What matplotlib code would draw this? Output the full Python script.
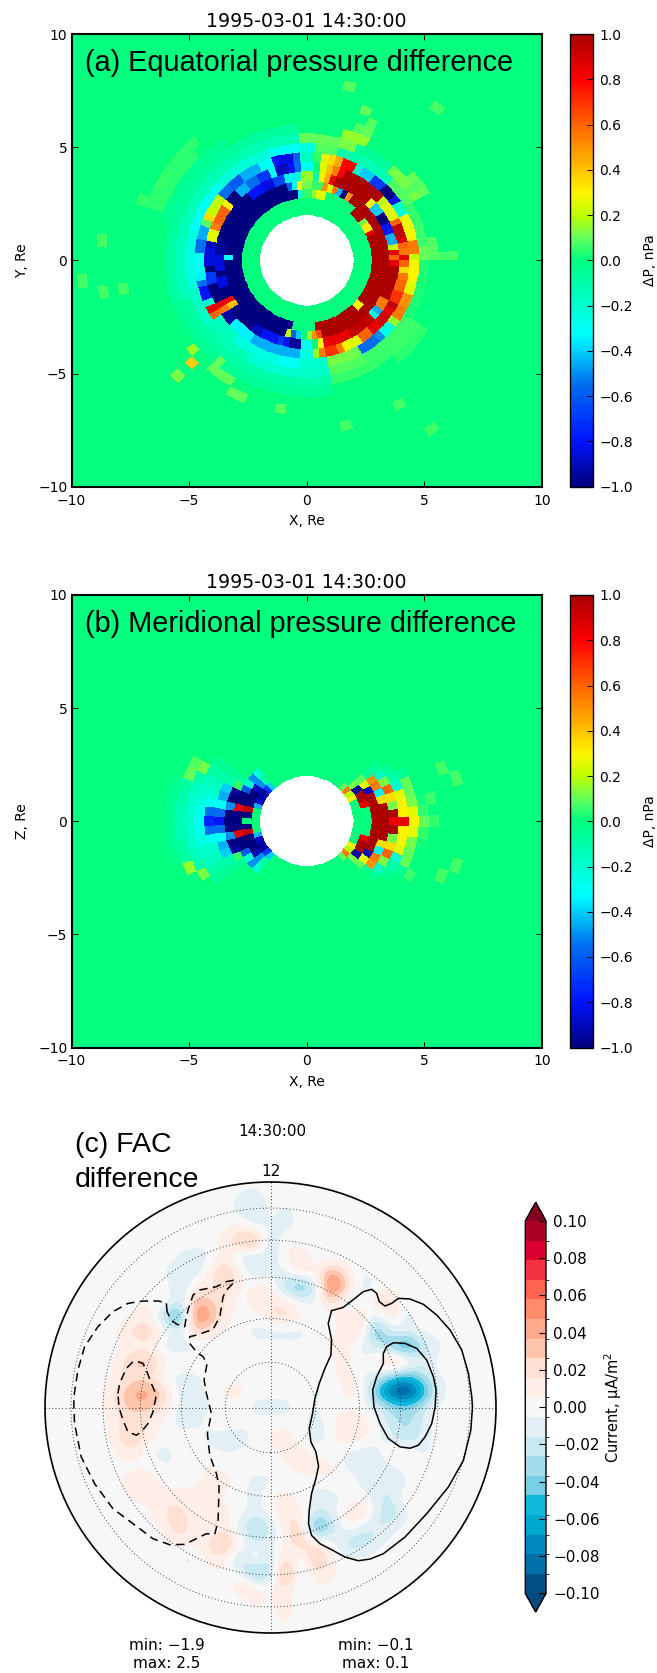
import numpy as np
import matplotlib
matplotlib.use('Agg')
import matplotlib.pyplot as plt
from matplotlib.colors import LinearSegmentedColormap, ListedColormap, BoundaryNorm, Normalize
from matplotlib.patches import Circle
from matplotlib.ticker import FuncFormatter

W, H = 657, 1673
TITLE = '1995-03-01 14:30:00'

# ---------- radial ring edges of the pressure grids (Re)
r_edges = [2.0, 2.37, 2.77, 3.15, 3.52, 3.94, 4.37, 4.80, 5.20, 5.62, 6.04, 6.46,
           6.88, 7.30, 7.72, 8.14, 8.56, 8.98, 9.40, 9.82, 15.0]

# ---------- panel (a): value of each ring, as start angle (deg) / value (nPa)
a0_deg = [0, 22, 28, 33, 37, 48, 75, 82, 86, 92, 96, 259.5, 278, 316, 322]
a0_val = [1, .85, .32, .12, 1, 0, .25, .15, .05, -.3, -1, 0, 1, .3, 1]
a1_deg = [0, 57, 60, 64, 67, 72, 76, 80, 87, 92, 96, 100, 105, 176, 181, 255, 259, 263, 268, 270, 272, 276, 280]
a1_val = [1, .5, -1, -.45, .55, .25, .5, .05, .12, .3, -.25, -.6, -1, -.3, -1, .2, -.6, -.4, 0, .15, .5, .65, 1]
a2_deg = [0, 3, 8, 12, 18, 27, 33, 40, 46, 72, 75, 79, 83, 88, 94, 98, 104, 112, 120, 130, 145, 170, 176, 187, 193,
          200, 205, 210, 213, 232, 240, 250, 255, 259, 267, 272, 277, 281, 300, 317, 322, 327, 335, 357]
a2_val = [.6, .85, .2, -.45, -.8, -1, -.4, .3, 1, .85, .45, .3, -.1, .15, -.2, -.35, -.65, -.85, -.8, -1, -1, -.95, -.85, -1, -.85,
          -1, .85, .4, -1, -.9, -.8, -.7, -.8, -.95, -.3, 0, .3, .85, .95, -.2, -.45, .55, 1, .85]
a3_deg = [0, 3, 7, 11, 16, 22, 28, 36, 43, 66, 70, 76, 79, 83, 88, 93, 97, 100, 108, 113, 120, 127, 134, 141, 148, 156, 160, 168,
          172, 182, 186, 194, 205, 210, 213, 220, 235, 258, 265, 272, 274, 279, 283, 288, 293, 298, 304, 310, 320, 326, 330, 335, 340, 347, 352, 356]
a3_val = [.85, .55, .6, .9, .95, .6, .25, .2, 1, .8, .55, .4, .25, 0, -.3, -.55, -.8, -.9, -.3, -.7, -.55, -.45, -1, .3, .6, .55, .25, -.9,
          -.85, -1, -.7, -1, .85, .55, -.95, -.35, -.45, -.45, -.25, -.1, .15, .55, .7, .55, .3, .25, .6, .85, .9, .85, .95, .7, .6, .55, .35, .6]
a4_deg = [0, 4, 10, 16, 26, 32, 38, 45, 52, 60, 64, 70, 74, 79, 83, 88, 92, 97, 104, 110, 118, 128, 136, 142, 152, 156, 161, 168, 175,
          187, 190, 195, 203, 205, 210, 213, 230, 255, 268, 280, 298, 300, 310, 316, 322, 328, 335, 342, 348, 356]
a4_val = [.2, .55, .3, .28, -.2, -.8, -1, -.7, -.4, -.2, .8, .45, .35, .25, .05, -.15, -.6, -.85, -.8, -.3, -.45, -.6, -.55, .2, .35, .1, -.45, -.55, -.3,
          -.35, -.55, -.8, -.2, .85, .6, -.15, -.25, -.3, -.2, .12, .1, -.55, -.5, -.25, .15, .55, .5, .25, .3, .3]
a5_deg = [0, 8, 20, 30, 45, 65, 75, 88, 95, 110, 140, 165, 195, 215, 240, 265, 280, 300, 330]
a5_val = [.1, .06, .05, .08, -.12, -.1, .08, -.25, -.3, -.22, -.3, -.25, -.18, -.13, -.2, -.18, .08, .06, .03]
a6_deg = [0, 10, 30, 50, 66, 76, 95, 140, 200, 230, 280, 310, 330]
a6_val = [.08, 0, .12, -.06, .12, .1, -.12, -.14, -.08, -.1, .05, .06, 0]
a7_deg = [0, 5, 30, 40, 65, 75, 95, 170, 200, 240, 280, 310, 330]
a7_val = [.07, 0, .1, 0, .15, 0, -.07, -.08, -.04, -.06, 0, .04, 0]
a8_deg = [0, 4, 65, 72, 125, 165, 228, 240, 250]
a8_val = [.08, 0, .1, 0, -.04, 0, .1, 0, 0]
a9_deg = [0, 135, 160, 243, 247]
a9_val = [0, .04, 0, .1, 0]
a10_deg = [0, 130, 160]
a10_val = [0, .04, 0]

# isolated faint cells of panel (a), Re
a_far_x = [-9.5, -8.7, -8.0, -6.9, -6.5, -6.0, -8.7, 2.6, 2.0, 2.66, 2.3, 5.6, 5.6, 1.8, -1.1, 4.2,
           -4.77, -4.8, -5.2, -3.8, -3.2, -3.25, 4.4, 4.9, 6.2]
a_far_y = [-1.1, -1.2, -1.2, 2.65, 3.3, 3.9, .8, 6.8, 7.6, 6.1, 5.74, 7.0, -7.5, -7.1, -6.4, -6.3,
           -4.7, -4.0, -5.15, -4.6, -5.2, -5.8, 3.2, 3.5, .2]
a_far_v = [.07, .07, .07, .05, .05, .05, .07, .1, .08, .08, .08, .07, .06, .07, .08, .07,
           .38, .15, .12, .1, .1, .1, .08, .08, .07]

# ---------- panel (b): by ring, value at successive latitude cells away from the equator
b_right = [[0, 0, 0, 0, 0, .3, .2, .55, .1],
           [0, 0, 0, .85, 1, 1, -.95, .12, 0],
           [1, 1, 1, 1, 1, -.9, .25, .1, 0],
           [1, 1, 1, .35, -.35, .55, .5, -.05, 0],
           [.85, 1, .12, .35, .6, .12, -.15, -.05, 0],
           [.85, .3, .3, .25, -.2, -.1, -.05, 0, 0],
           [.3, .25, .12, .1, .1, -.05, 0, 0, 0],
           [.1, .05, .02, 0, 0, 0, 0, 0, 0],
           [.05, 0, 0, 0, 0, 0, 0, 0, 0]]
b_left = [[0, 0, 0, -.45, -.9, -.95, -.95, -.7, -.4],
          [0, -1, .95, -1, -1, -1, -.9, -.5, -.1],
          [-1, -1, .85, -1, -1, -.6, -.2, -.5, -.2],
          [-1, -1, -.5, -1, -.95, .05, -.05, 0, 0],
          [-.8, -.55, -.3, -.45, -.4, -.1, -.05, 0, 0],
          [-.75, -.55, -.3, -.2, -.15, -.1, -.05, 0, 0],
          [-.3, -.28, -.25, -.2, -.15, -.1, -.05, 0, 0],
          [-.2, -.2, -.18, -.15, -.1, -.05, 0, 0, 0],
          [-.12, -.12, -.1, -.08, -.04, 0, 0, 0, 0],
          [-.05, -.05, -.04, -.03, 0, 0, 0, 0, 0]]
b_far_x = [5.77, 6.27, 5.28, 5.77, 6.27, 4.36, -4.34, -4.9, -5.12, -5.12, -4.98, -4.34]
b_far_y = [2.39, 2.18, 1.12, -2.46, -2.2, -2.6, 2.46, 2.67, 2.04, -2.06, -2.35, -2.42]
b_far_v = [.07, .07, .06, .07, .07, .06, .12, .08, .1, .2, .15, .12]

# ---------- panel (c): FAC difference (0.01 uA/m2) on a 31x31 grid; row key = north index, column key = east index
fac_rows = {
    14: {-1: -1.2, -2: -.8},
    13: {-1: -1.8, -2: -1.2, 1: -1.1},
    12: {-2: 1, -1: -1.2, 1: -1.2, 0: -.4},
    11: {-3: 1.2, -2: 3.5, -1: 5.5, 0: -3, 1: 1.2, 2: -.8, 3: -.7},
    10: {-6: -.8, -5: -1.2, -4: -1, -3: 1.5, -2: -2, -1: -2.2, 0: -1, 2: 2.8, 3: -.8, 4: -.8},
    9: {-7: -.8, -6: -.8, -5: -2, -4: 1.5, -3: 3.2, -2: 1.2, -1: -2, 0: -.7, 1: -.7, 2: 2, 3: .6, 4: 4.5, 5: 1.5, 6: -.8},
    8: {-8: -.7, -7: .7, -6: -3.2, -5: 1.2, -4: .8, -3: 3, -1: 1, 0: 1, 1: -3, 2: -5.5, 3: -2.2, 4: 7.5, 5: 3.5, 6: -1.2, 7: -.8},
    7: {-8: .7, -7: 1, -6: -2.2, -5: 4, -4: 3, -3: 1.2, -1: 1.2, 0: 2, 1: 1, 3: -1, 4: 2.5, 5: -1, 6: -1.2, 7: 2, 8: 3, 9: -1},
    6: {-9: .8, -8: 1.2, -7: -4, -6: -6.5, -5: 6, -4: 4.5, -3: 1, 0: 1.5, 1: 2.8, 2: .7, 5: 1.2, 6: 2.8, 7: -2, 8: 2, 9: -1.2},
    5: {-10: 1, -9: 2.5, -8: 2.8, -7: .8, -6: -1, -5: 3, -4: 1.5, -1: -1.2, 0: -1.2, 1: -1.2, 2: -1.2, 5: 1.2, 6: 2, 7: -5.5, 8: -1.2, 9: -1},
    4: {-9: .8, -8: .8, -7: -1.6, -6: -1.6, -5: -1.2, -4: -.7, 4: 1, 5: 1, 6: -1, 7: -1.2, 8: -4.5, 9: -7.5, 10: -3.5, 11: -1},
    3: {-10: 1.5, -9: 3.5, -8: 3.5, -7: 1, -6: .8, -5: .8, -3: 1, 0: 1, 2: -.8, 3: -.8, 5: 1.5, 6: -1, 7: 1.2, 8: 4.5, 9: 3, 10: -1.2},
    2: {-10: .8, -9: 2, -8: 1.5, -7: -.7, -6: -1.2, -5: -1, 1: .7, 2: .5, 5: 1.2, 7: -1.5, 8: -4, 9: -6, 10: -3.5, 11: -.8},
    1: {-11: .7, -10: 2.5, -9: 4.5, -8: 4.5, -7: 2.5, -6: -1.2, -5: -1.2, -3: 1, -2: 1.2, 3: -.8, 4: -.8, 5: 1, 6: 1, 7: -5, 8: -9.5, 9: -11, 10: -7.5, 11: -2},
    0: {-11: .7, -10: 2, -9: 3.5, -8: 3, -7: 1.5, -6: -1.2, -5: -1.2, -4: -.7, -1: -1.2, 0: -1.2, 1: -1.2, 3: -.8, 4: .7, 7: -1, 8: -3, 9: -4, 10: -2.2},
    -1: {-10: 1.8, -9: 1.8, -8: 1, -6: -1.2, -5: -.8, -3: 1.2, 3: -1.2, 5: 1.5, 6: 1.5, 8: -2, 9: -3, 10: -1.8},
    -2: {-10: 2, -9: 3, -8: 1.2, -4: -1.2, -3: -1.6, -2: -1.6, 0: .7, 1: 1.5, 3: -1.6, 5: 2, 6: 1.2, 8: -1.5, 9: -3, 10: -1.5},
    -3: {-10: 1, -9: 1.5, -8: -1, -7: -1.2, -3: -.7, 1: 1.2, 2: 1.5, 5: -.7, 6: -1.2, 7: -1.2, 8: 1.2, 9: 1.2, 10: -1},
    -4: {-8: .7, -7: -.7, -4: .8, 2: 1.2, 3: 1.2, 4: 1.2, 5: -1, 6: -1.5, 7: -1.5, 8: -1},
    -5: {-10: .7, -9: 1.5, -8: 1.2, -4: 1.5, -3: 1.2, -1: -1.2, 0: -.8, 5: 1.2, 6: -.8, 7: -1.5, 8: -1.8, 9: -.8},
    -6: {-9: .8, -8: 1.2, -7: 1.2, -6: 1.2, -5: 1.2, -4: .8, -1: -1.2, 0: .7, 1: 1.2, 3: -1.2, 4: -1.2, 5: -.7, 7: -1, 8: -2, 9: .8},
    -7: {-7: 2, -6: 2, -5: .8, -4: 1, -3: 1.2, -1: -1.2, 1: 2, 2: 1, 3: -1.8, 4: -1.2, 5: 1.2, 6: 3, 7: -1.2, 8: -2.8, 9: -.8},
    -8: {-7: 1.2, -6: 2.5, -5: .8, -3: 1.2, -2: -1.6, -1: -3.5, 0: -2, 1: 1.2, 2: 3, 3: -6.5, 4: -3.2, 5: .7, 6: -1.2, 7: -2, 8: -1.2},
    -9: {-6: 1.6, -5: .7, -4: 2, -3: 4.2, -2: .7, -1: -2.2, 0: -.8, 1: .7, 2: 3.5, 3: 1.2, 5: -2.2, 6: -3, 7: -1.2},
    -10: {-6: -1, -5: -1.2, -4: 1.6, -3: 1.2, -2: -3, -1: 2, 0: -2.2, 1: 2, 2: -1.6, 3: 4.5, 4: 1.2, 5: -.8},
    -11: {-3: .7, -2: -1.2, -1: -5, 0: -3, 1: 6, 2: -1.2, 3: 1.6, 4: 1},
    -12: {-3: -.8, -2: 3, -1: 1.2, 1: 2, 2: -1.2, 3: .7},
    -13: {-2: -1.2, -1: 1.6, 1: 1.6, 2: -.8},
    -14: {-1: -1.1, 1: 1.1},
}

# ---------- panel (c): contours of the potential difference, hundredths of a 780-unit sin(colatitude) scale
solid_outer_x = [183, 218, 253, 278, 303, 318, 326, 343, 363, 383, 418, 458, 498, 538, 573, 593, 603, 605, 600, 578, 533, 468, 403, 338,
                 298, 263, 223, 183, 148, 123, 114, 116, 123, 136, 144, 136, 121, 116, 126, 133, 146, 163, 181, 183, 173, 183]
solid_outer_y = [290, 300, 327, 347, 354, 342, 317, 304, 312, 327, 325, 309, 277, 232, 172, 102, 32, 0, -68, -158, -238, -318, -388, -438,
                 -454, -459, -448, -426, -408, -383, -348, -308, -258, -213, -176, -133, -103, -63, -18, 27, 72, 117, 157, 202, 252, 290]
solid_inner_x = [348, 368, 403, 438, 468, 488, 496, 493, 483, 463, 443, 418, 388, 353, 328, 310, 306, 318, 338, 338, 348]
solid_inner_y = [182, 194, 192, 177, 142, 92, 52, 0, -48, -88, -113, -122, -118, -93, -48, 2, 52, 92, 132, 162, 182]
dashed_outer_x = [-310, -312, -337, -382, -427, -472, -517, -557, -577, -589, -589, -587, -567, -527, -472, -412, -352, -302, -257, -212,
                  -192, -167, -157, -154, -162, -182, -189, -177, -192, -199, -190, -202, -222, -242, -242, -222, -172, -152, -142, -132,
                  -112, -107, -132, -162, -212, -232, -247, -252, -257, -282, -297, -310]
dashed_outer_y = [287, 314, 319, 319, 312, 287, 242, 182, 112, 32, 0, -48, -148, -228, -303, -348, -393, -411, -410, -388,
                  -378, -380, -338, -238, -198, -143, -78, -18, 42, 82, 132, 152, 167, 192, 212, 217, 234, 272, 332, 352,
                  372, 382, 377, 362, 352, 337, 292, 272, 242, 250, 262, 287]
dashed_inner_x = [-457, -452, -432, -412, -402, -382, -372, -357, -342, -352, -367, -387, -402, -427, -442, -454, -457]
dashed_inner_y = [42, 72, 117, 137, 139, 132, 112, 72, 37, -13, -48, -73, -83, -73, -38, 2, 42]

colat_rings = [10, 20, 30, 40, 50]
colat_outer = 60
fac_ticks = [-.10, -.08, -.06, -.04, -.02, 0, .02, .04, .06, .08, .10]
fac_colors = ['#005088', '#0070a8', '#0088c0', '#00a8d0', '#10b8dc', '#78cfe6', '#a4dcec', '#c8e8f2', '#e2f0f6',
              '#f7f7f7', '#ffeee8', '#ffe0d2', '#ffc4ac', '#ffa98c', '#ff8a6c', '#ff6450', '#f53240', '#dc0030', '#aa0028']
dp_anchor_v = [-1, -.8, -.55, -.33, -.1, 0, .1, .2, .3, .45, .6, .8, 1]
dp_anchor_c = ['#00007f', '#0014ff', '#006ef0', '#00ffff', '#00ffaa', '#00ff80', '#64ff5a', '#beff00',
               '#fff500', '#ffaa00', '#ff6400', '#ff0000', '#aa0000']

dp_cmap = LinearSegmentedColormap.from_list('dp', list(zip([(v + 1) / 2 for v in dp_anchor_v], dp_anchor_c)), 256)
dp_norm = Normalize(-1, 1)


def pbox(x0, y0, x1, y1):
    return [x0 / W, 1 - y1 / H, (x1 - x0) / W, (y1 - y0) / H]


def ring_from_steps(deg, val, centres):
    idx = np.searchsorted(deg, centres, side='right') - 1
    return np.asarray(val, float)[idx]


def place_far(Z, xs, ys, vs, edges, nphi, offset):
    for x, y, v in zip(xs, ys, vs):
        r = np.hypot(x, y)
        a = (np.degrees(np.arctan2(y, x)) - offset) % 360
        Z[np.searchsorted(edges, r) - 1, int(a / (360 / nphi)) % nphi] = v


def mesh(ax, Z, edges, nphi, offset):
    th = np.radians(np.linspace(offset, offset + 360, nphi + 1))
    R, T = np.meshgrid(edges, th, indexing='ij')
    return ax.pcolormesh(R * np.cos(T), R * np.sin(T), Z, cmap=dp_cmap, norm=dp_norm,
                         shading='flat', antialiased=False, linewidth=0, rasterized=True)


def minus(s):
    return s.replace('-', '\u2212')


# ----- grid values
na = 96
ca = (np.arange(na) + .5) * 360 / na
Za = np.zeros((len(r_edges) - 1, na))
for i, (d, v) in enumerate([(a0_deg, a0_val), (a1_deg, a1_val), (a2_deg, a2_val), (a3_deg, a3_val), (a4_deg, a4_val),
                            (a5_deg, a5_val), (a6_deg, a6_val), (a7_deg, a7_val), (a8_deg, a8_val),
                            (a9_deg, a9_val), (a10_deg, a10_val)]):
    Za[i + 2] = ring_from_steps(d, v, ca)
place_far(Za, a_far_x, a_far_y, a_far_v, r_edges, na, 0)

nb = 64
db = 360 / nb
Zb = np.zeros((len(r_edges) - 1, nb))
for i, vals in enumerate(b_right):
    for s in range(nb):
        k = min(s, nb - s)
        if k < len(vals):
            Zb[i, s] = vals[k]
for i, vals in enumerate(b_left):
    for s in range(nb):
        k = abs(s - nb // 2)
        if k < len(vals):
            Zb[i, s] = vals[k]
place_far(Zb, b_far_x, b_far_y, b_far_v, r_edges, nb, -db / 2)

fac = np.zeros((31, 31))
for j, row in fac_rows.items():
    for i, v in row.items():
        fac[15 - j, i + 15] = v * .01

# ----- figure
fig = plt.figure(figsize=(W / 100, H / 100), dpi=100)
SANS = 'Liberation Sans'


def pressure_panel(y0, y1, Z, nphi, offset, ylabel, note, note_y):
    ax = fig.add_axes(pbox(71.5, y0, 541.9, y1))
    m = mesh(ax, Z, r_edges, nphi, offset)
    ax.set_xlim(-10, 10)
    ax.set_ylim(-10, 10)
    ax.set_xticks([-10, -5, 0, 5, 10])
    ax.set_yticks([-10, -5, 0, 5, 10])
    ax.tick_params(direction='in', top=True, right=True, length=4, width=.7, labelsize=10, pad=3)
    ax.tick_params(axis='x', pad=5)
    for s in ax.spines.values():
        s.set_linewidth(1.5)
    ax.set_xlabel('X, Re', fontsize=10, labelpad=4.5)
    ax.set_ylabel(ylabel, fontsize=10, labelpad=6.5)
    ax.set_title(TITLE, fontsize=13.6, pad=5)
    fig.text(85 / W, 1 - note_y / H, note, family=SANS, fontsize=20.8, va='center', ha='left')
    cax = fig.add_axes(pbox(569.5, y0, 592.5, y1))
    cb = fig.colorbar(m, cax=cax, ticks=np.arange(-1, 1.01, .2))
    cb.ax.tick_params(direction='in', length=4, width=.7, labelsize=10, pad=5)
    cb.ax.yaxis.set_major_formatter(FuncFormatter(lambda v, p: minus(f'{v:.1f}' if abs(v) > 1e-6 else '0.0')))
    cb.set_label('\u0394P, nPa', fontsize=10, labelpad=7.5)
    cb.outline.set_linewidth(1)
    return ax


pressure_panel(34, 486.7, Za, na, 0, 'Y, Re', '(a) Equatorial pressure difference', 63)
pressure_panel(595, 1047.5, Zb, nb, -db / 2, 'Z, Re', '(b) Meridional pressure difference', 624)

# ----- panel (c)
lim = np.sin(np.radians(colat_outer))
axc = fig.add_axes(pbox(44, 1181, 497, 1634))
axc.axis('off')
levels = np.linspace(-.1, .1, 20)
cm = ListedColormap(fac_colors)
cm.set_under('#004a80')
cm.set_over('#850022')
norm = BoundaryNorm(levels, 19)
half = 697.5 / 780
im = axc.imshow(fac, extent=[-half, half, -half, half], origin='upper', cmap=cm, norm=norm,
                interpolation='bicubic', interpolation_stage='data', zorder=1)
clip = Circle((0, 0), lim, transform=axc.transData)
im.set_clip_path(clip)
axc.set_xlim(-lim * 453 / 451, lim * 453 / 451)
axc.set_ylim(-lim * 453 / 451, lim * 453 / 451)
DOT = (0, (1, 3))
for c in colat_rings:
    axc.add_patch(Circle((0, 0), np.sin(np.radians(c)), fill=False, ec='k', lw=.6, ls=DOT, zorder=2))
axc.plot([-lim, lim], [0, 0], color='k', lw=.6, ls=DOT, zorder=2)
axc.plot([0, 0], [-lim, lim], color='k', lw=.6, ls=DOT, zorder=2)
axc.add_patch(Circle((0, 0), lim, fill=False, ec='k', lw=1.2, zorder=4))
for xs, ys in [(solid_outer_x, solid_outer_y), (solid_inner_x, solid_inner_y)]:
    axc.plot(np.array(xs) / 780, np.array(ys) / 780, color='k', lw=1.1, zorder=3)
for xs, ys in [(dashed_outer_x, dashed_outer_y), (dashed_inner_x, dashed_inner_y)]:
    axc.plot(np.array(xs) / 780, np.array(ys) / 780, color='k', lw=1.1, ls=(0, (5.5, 3.5)), zorder=3)

fig.text(272 / W, 1 - 1131 / H, '14:30:00', fontsize=11, ha='center', va='center')
fig.text(271 / W, 1 - 1172 / H, '12', fontsize=11, ha='center', va='center')
fig.text(75 / W, 1 - 1145 / H, '(c) FAC', family=SANS, fontsize=20.5, ha='left', va='center')
fig.text(75 / W, 1 - 1180 / H, 'difference', family=SANS, fontsize=20.5, ha='left', va='center')
fig.text(167 / W, 1 - 1646 / H, 'min: \u22121.9', fontsize=11, ha='center', va='center')
fig.text(167 / W, 1 - 1664 / H, 'max: 2.5', fontsize=11, ha='center', va='center')
fig.text(376 / W, 1 - 1646 / H, 'min: \u22120.1', fontsize=11, ha='center', va='center')
fig.text(376 / W, 1 - 1664 / H, 'max: 0.1', fontsize=11, ha='center', va='center')

caxc = fig.add_axes(pbox(525.3, 1202.3, 546, 1612))
cbc = fig.colorbar(im, cax=caxc, extend='both', ticks=fac_ticks, spacing='uniform')
cbc.ax.tick_params(direction='in', length=5, width=.8, labelsize=11, pad=5)
cbc.ax.yaxis.set_major_formatter(FuncFormatter(lambda v, p: minus(f'{v:.2f}' if abs(v) > 1e-6 else '0.00')))
cbc.set_label('Current, \u03bcA/m$^2$', fontsize=10.5, labelpad=2)
cbc.outline.set_linewidth(1)

fig.savefig('out.png', dpi=100)
